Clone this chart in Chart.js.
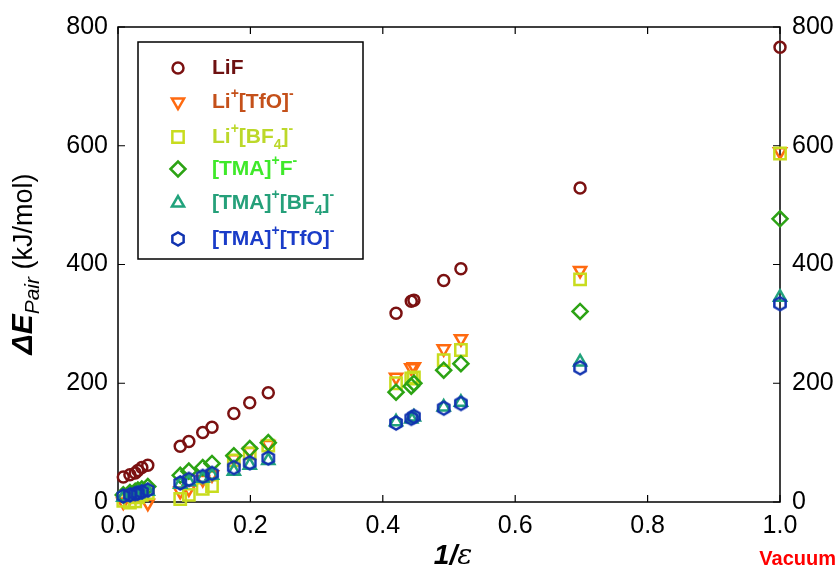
<!DOCTYPE html>
<html>
<head>
<meta charset="utf-8">
<script src="https://cdn.jsdelivr.net/npm/chart.js@4.4.0/dist/chart.umd.min.js"></script>
<style>
  html, body { margin: 0; padding: 0; background: #fff; }
</style>
</head>
<body>
<canvas id="c" width="840" height="573"></canvas>
<script>
// 1/epsilon of each solvent (shared by all series)
const invEps = [0.008, 0.018, 0.026, 0.030, 0.036, 0.045, 0.094, 0.107, 0.128, 0.142,
                0.175, 0.199, 0.227, 0.420, 0.443, 0.447, 0.492, 0.518, 0.698, 1.0];

// pair energies, kJ/mol
const lif    = [42, 46, 49, 53, 58, 62, 94, 102, 117, 126, 149, 167, 184, 318, 338, 340, 373, 393, 529, 766];
const liTfo  = [0, 8, 10, 12, 14, -2, 18, 22, 38, 46, 73, 85, 97, 210, 226, 228, 258, 275, 390, 590];
const liBf4  = [2, -1, 1, 8, 12, 15, 5, 12, 22, 27, 70, 82, 95, 200, 208, 210, 239, 256, 375, 587];
const tmaF   = [12, 16, 18, 20, 22, 26, 45, 52, 58, 65, 78, 90, 100, 185, 195, 200, 222, 233, 321, 477];
const tmaBf4 = [8, 10, 12, 14, 16, 18, 30, 34, 40, 45, 52, 62, 70, 135, 140, 143, 160, 168, 236, 345];
const tmaTfo = [10, 12, 14, 15, 17, 20, 32, 38, 43, 48, 58, 66, 74, 133, 141, 144, 158, 166, 226, 334];

const xTicks = [0, 0.2, 0.4, 0.6, 0.8, 1.0];
const yTicks = [0, 200, 400, 600, 800];

const FONT = "'Liberation Sans', Arial, Helvetica, sans-serif";

function hexImg(color) {
  const c = document.createElement('canvas');
  c.width = c.height = 18;
  const g = c.getContext('2d');
  g.strokeStyle = color;
  g.lineWidth = 2.5;
  g.beginPath();
  for (let k = 0; k < 6; k++) {
    const a = Math.PI / 2 + k * Math.PI / 3;
    const px = 9 + 6.5 * Math.cos(a), py = 9 + 6.5 * Math.sin(a);
    if (k) g.lineTo(px, py); else g.moveTo(px, py);
  }
  g.closePath();
  g.stroke();
  return c;
}

// legend label pieces: [text, kind] kind: n normal, p superscript, b subscript
const series = [
  { vals: lif,    color: '#7b1111', text: '#6e1111', style: 'circle',   rot: 0,   r: 5.5,
    label: [['LiF', 'n']] },
  { vals: liTfo,  color: '#ff6a10', text: '#c4501a', style: 'triangle', rot: 180, r: 7,
    label: [['Li', 'n'], ['+', 'p'], ['[TfO]', 'n'], ['-', 'p']] },
  { vals: liBf4,  color: '#c8dc1e', text: '#bcd82a', style: 'rect',     rot: 0,   r: 8,
    label: [['Li', 'n'], ['+', 'p'], ['[BF', 'n'], ['4', 'b'], [']', 'n'], ['-', 'p']] },
  { vals: tmaF,   color: '#2ca314', text: '#3fe92a', style: 'rectRot',  rot: 0,   r: 7.5,
    label: [['[TMA]', 'n'], ['+', 'p'], ['F', 'n'], ['-', 'p']] },
  { vals: tmaBf4, color: '#21a37c', text: '#25a07a', style: 'triangle', rot: 0,   r: 7,
    label: [['[TMA]', 'n'], ['+', 'p'], ['[BF', 'n'], ['4', 'b'], [']', 'n'], ['-', 'p']] },
  { vals: tmaTfo, color: '#1133b0', text: '#1a3cc8', style: null,       rot: 0,   r: 7,
    label: [['[TMA]', 'n'], ['+', 'p'], ['[TfO]', 'n'], ['-', 'p']] },
];
series[5].style = hexImg(series[5].color);

function drawRich(ctx, parts, x, y, align) {
  let w = 0;
  parts.forEach(p => { ctx.font = p.font; p.w = ctx.measureText(p.t).width; w += p.w; });
  let cx = align === 'center' ? x - w / 2 : x;
  parts.forEach(p => {
    ctx.font = p.font;
    ctx.fillStyle = p.color;
    ctx.fillText(p.t, cx, y + (p.dy || 0));
    cx += p.w;
  });
}

const decorPlugin = {
  id: 'decor',
  beforeDatasetsDraw(chart) {
    const { ctx, chartArea: a, scales } = chart;
    ctx.save();
    ctx.strokeStyle = '#000';
    ctx.lineWidth = 1.5;
    ctx.strokeRect(a.left, a.top, a.right - a.left, a.bottom - a.top);
    ctx.lineWidth = 1.2;
    ctx.beginPath();
    xTicks.forEach(v => {
      const px = scales.x.getPixelForValue(v);
      ctx.moveTo(px, a.bottom); ctx.lineTo(px, a.bottom - 7);
      ctx.moveTo(px, a.top); ctx.lineTo(px, a.top + 7);
    });
    yTicks.forEach(v => {
      const py = scales.y.getPixelForValue(v);
      ctx.moveTo(a.left, py); ctx.lineTo(a.left + 7, py);
      ctx.moveTo(a.right, py); ctx.lineTo(a.right - 7, py);
    });
    ctx.stroke();
    ctx.restore();
  },
  afterDraw(chart) {
    const { ctx } = chart;
    ctx.save();
    // legend
    const bx = 138, by = 42, bw = 225, bh = 217;
    ctx.fillStyle = '#fff';
    ctx.fillRect(bx, by, bw, bh);
    ctx.strokeStyle = '#000';
    ctx.lineWidth = 1.5;
    ctx.strokeRect(bx, by, bw, bh);
    const rows = [68, 102, 137, 169, 203, 239];
    ctx.textBaseline = 'middle';
    series.forEach((s, i) => {
      ctx.strokeStyle = s.color;
      ctx.fillStyle = 'rgba(0,0,0,0)';
      ctx.lineWidth = 2.5;
      Chart.helpers.drawPoint(ctx, { pointStyle: s.style, rotation: s.rot, radius: s.r, borderWidth: 2.5 }, 178, rows[i]);
      const parts = s.label.map(([t, k]) => ({
        t,
        color: s.text,
        font: k === 'n' ? `bold 21px ${FONT}` : `bold 14px ${FONT}`,
        dy: k === 'p' ? -8 : (k === 'b' ? 8 : 0),
      }));
      drawRich(ctx, parts, 212, rows[i], 'left');
    });

    // y title
    ctx.save();
    ctx.translate(32, 264);
    ctx.rotate(-Math.PI / 2);
    ctx.textBaseline = 'alphabetic';
    drawRich(ctx, [
      { t: 'ΔE', font: `italic bold 30px ${FONT}`, color: '#000' },
      { t: 'Pair', font: `italic 21px ${FONT}`, color: '#000', dy: 7 },
      { t: ' (kJ/mol)', font: `27px ${FONT}`, color: '#000' },
    ], 0, 0, 'center');
    ctx.restore();

    // x title
    ctx.textBaseline = 'alphabetic';
    drawRich(ctx, [
      { t: '1/', font: `italic bold 28px ${FONT}`, color: '#000' },
      { t: 'ε', font: `italic 28px 'DejaVu Serif', serif`, color: '#000' },
    ], 453, 564, 'center');

    ctx.font = `bold 20px 'Liberation Sans Narrow', ${FONT}`;
    ctx.fillStyle = '#ff0000';
    ctx.textAlign = 'right';
    ctx.fillText('Vacuum', 836, 565);
    ctx.restore();
  }
};

const tickFont = { family: FONT, size: 25 };

new Chart(document.getElementById('c'), {
  type: 'scatter',
  data: {
    datasets: series.map((s, i) => ({
      data: invEps.map((x, j) => ({ x, y: s.vals[j] })),
      pointStyle: s.style,
      rotation: s.rot,
      radius: s.r,
      borderColor: s.color,
      backgroundColor: 'rgba(0,0,0,0)',
      borderWidth: 2.5,
      clip: false,
      order: 5 - i,
    })),
  },
  options: {
    responsive: false,
    animation: false,
    layout: { padding: { top: 24, left: 0, right: 0, bottom: 0 } },
    plugins: { legend: { display: false }, tooltip: { enabled: false } },
    scales: {
      x: {
        type: 'linear', min: 0, max: 1, position: 'bottom',
        afterFit: s => { s.height = 71; },
        afterBuildTicks: s => { s.ticks = xTicks.map(v => ({ value: v })); },
        grid: { display: false, drawTicks: false },
        border: { display: false },
        ticks: { callback: v => v.toFixed(1), font: tickFont, color: '#000', padding: 9, maxRotation: 0 },
      },
      y: {
        type: 'linear', min: 0, max: 800, position: 'left',
        afterFit: s => { s.width = 118; },
        afterBuildTicks: s => { s.ticks = yTicks.map(v => ({ value: v })); },
        grid: { display: false, drawTicks: false },
        border: { display: false },
        ticks: { font: tickFont, color: '#000', padding: 10 },
      },
      y2: {
        type: 'linear', min: 0, max: 800, position: 'right',
        afterFit: s => { s.width = 60; },
        afterBuildTicks: s => { s.ticks = yTicks.map(v => ({ value: v })); },
        grid: { display: false, drawTicks: false },
        border: { display: false },
        ticks: { font: tickFont, color: '#000', padding: 12 },
      },
    },
  },
  plugins: [decorPlugin],
});
</script>
</body>
</html>
